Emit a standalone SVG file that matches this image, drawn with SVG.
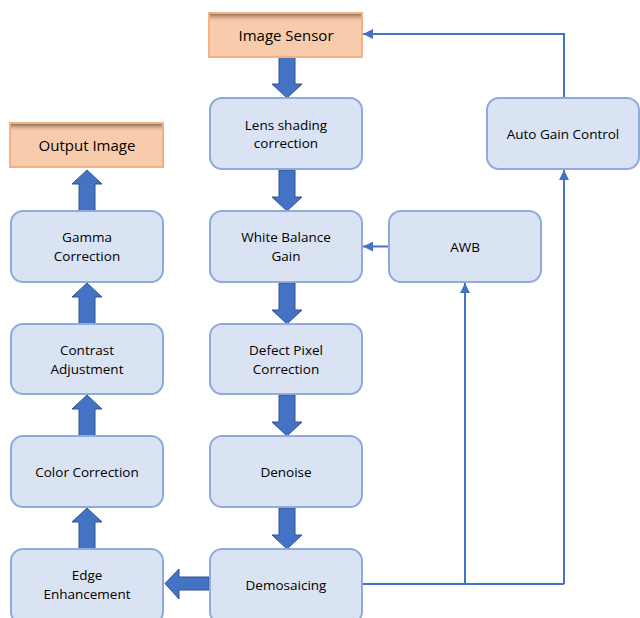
<svg xmlns="http://www.w3.org/2000/svg" width="640" height="618" viewBox="0 0 640 618">
  <style>
    .box { fill: #dae3f3; stroke: #8faadc; stroke-width: 2; }
    .io { fill: #f8cbad; stroke: #f4b183; stroke-width: 2; }
    .lbl { font-family: "Open Sans", "Liberation Sans", sans-serif; font-size: 13.5px; fill: #000; text-anchor: middle; }
    .io-lbl { font-family: "Open Sans", "Liberation Sans", sans-serif; font-size: 15px; fill: #000; text-anchor: middle; }
    .wire { fill: none; stroke: #4472c4; stroke-width: 2; }
    .block { fill: #4472c4; stroke: #2f528f; stroke-width: 1; }
  </style>
  <defs>
    <marker id="tri" viewBox="0 0 10 10" refX="10" refY="5" markerWidth="5" markerHeight="5" orient="auto" markerUnits="strokeWidth">
      <path d="M0,0 L10,5 L0,10 z" fill="#4472c4"/>
    </marker>
    <linearGradient id="ioShade" x1="0" y1="0" x2="0" y2="1">
      <stop offset="0" stop-color="#7a5a46" stop-opacity="0.8"/>
      <stop offset="0.2" stop-color="#f8cbad" stop-opacity="0"/>
      <stop offset="1" stop-color="#f8cbad" stop-opacity="0"/>
    </linearGradient>
  </defs>

  <!-- connectors -->
  <g id="connectors">
    <!-- thick block arrows down the main pipeline -->
    <path class="block" d="M279,57 H295 V84 H302 L287,98 L272,84 H279 Z"/>
    <path class="block" d="M279,170 H295 V197 H302 L287,211 L272,197 H279 Z"/>
    <path class="block" d="M279,283 H295 V310 H302 L287,324 L272,310 H279 Z"/>
    <path class="block" d="M279,395 H295 V422 H302 L287,436 L272,422 H279 Z"/>
    <path class="block" d="M279,508 H295 V535 H302 L287,549 L272,535 H279 Z"/>
    <!-- Demosaicing to Edge Enhancement -->
    <path class="block" d="M209,577 V590 H179 V599 L165,583.5 L179,569 V577 Z"/>
    <!-- thick block arrows up the output column -->
    <path class="block" d="M79,549 H95 V522 H102 L87,508 L72,522 H79 Z"/>
    <path class="block" d="M79,436 H95 V409 H102 L87,395 L72,409 H79 Z"/>
    <path class="block" d="M79,324 H95 V297 H102 L87,283 L72,297 H79 Z"/>
    <path class="block" d="M79,211 H95 V184 H102 L87,170 L72,184 H79 Z"/>
    <!-- statistics feedback wires -->
    <path class="wire" d="M362,584 H564"/>
    <path class="wire" d="M465,584 V283" marker-end="url(#tri)"/>
    <path class="wire" d="M564,584 V170" marker-end="url(#tri)"/>
    <path class="wire" d="M389,246.5 H363" marker-end="url(#tri)"/>
    <path class="wire" d="M564,98 V34 H363" marker-end="url(#tri)"/>
  </g>

  <g id="image-sensor">
    <rect class="io" x="209" y="13" width="153" height="44"/>
    <rect x="210" y="14" width="151" height="42" fill="url(#ioShade)"/>
    <text class="io-lbl" x="286" y="41">Image Sensor</text>
  </g>

  <g id="output-image">
    <rect class="io" x="10" y="123" width="153" height="44"/>
    <rect x="11" y="124" width="151" height="42" fill="url(#ioShade)"/>
    <text class="io-lbl" x="87" y="151">Output Image</text>
  </g>

  <g id="lens-shading">
    <rect class="box" x="210" y="98" width="152" height="71" rx="12"/>
    <text class="lbl" x="286" y="130">Lens shading</text>
    <text class="lbl" x="286" y="148">correction</text>
  </g>

  <g id="white-balance">
    <rect class="box" x="210" y="211" width="152" height="71" rx="12"/>
    <text class="lbl" x="286" y="242">White Balance</text>
    <text class="lbl" x="286" y="261">Gain</text>
  </g>

  <g id="defect-pixel">
    <rect class="box" x="210" y="324" width="152" height="70" rx="12"/>
    <text class="lbl" x="286" y="355">Defect Pixel</text>
    <text class="lbl" x="286" y="374">Correction</text>
  </g>

  <g id="denoise">
    <rect class="box" x="210" y="436" width="152" height="71" rx="12"/>
    <text class="lbl" x="286" y="477">Denoise</text>
  </g>

  <g id="demosaicing">
    <rect class="box" x="210" y="549" width="152" height="75" rx="12"/>
    <text class="lbl" x="286" y="590">Demosaicing</text>
  </g>

  <g id="edge-enhancement">
    <rect class="box" x="11" y="549" width="152" height="75" rx="12"/>
    <text class="lbl" x="87" y="580">Edge</text>
    <text class="lbl" x="87" y="599">Enhancement</text>
  </g>

  <g id="color-correction">
    <rect class="box" x="11" y="436" width="152" height="71" rx="12"/>
    <text class="lbl" x="87" y="477">Color Correction</text>
  </g>

  <g id="contrast">
    <rect class="box" x="11" y="324" width="152" height="70" rx="12"/>
    <text class="lbl" x="87" y="355">Contrast</text>
    <text class="lbl" x="87" y="374">Adjustment</text>
  </g>

  <g id="gamma">
    <rect class="box" x="11" y="211" width="152" height="71" rx="12"/>
    <text class="lbl" x="87" y="242">Gamma</text>
    <text class="lbl" x="87" y="261">Correction</text>
  </g>

  <g id="awb">
    <rect class="box" x="389" y="211" width="152" height="71" rx="12"/>
    <text class="lbl" x="465" y="252">AWB</text>
  </g>

  <g id="auto-gain">
    <rect class="box" x="487" y="98" width="152" height="71" rx="12"/>
    <text class="lbl" x="563" y="139">Auto Gain Control</text>
  </g>
</svg>
